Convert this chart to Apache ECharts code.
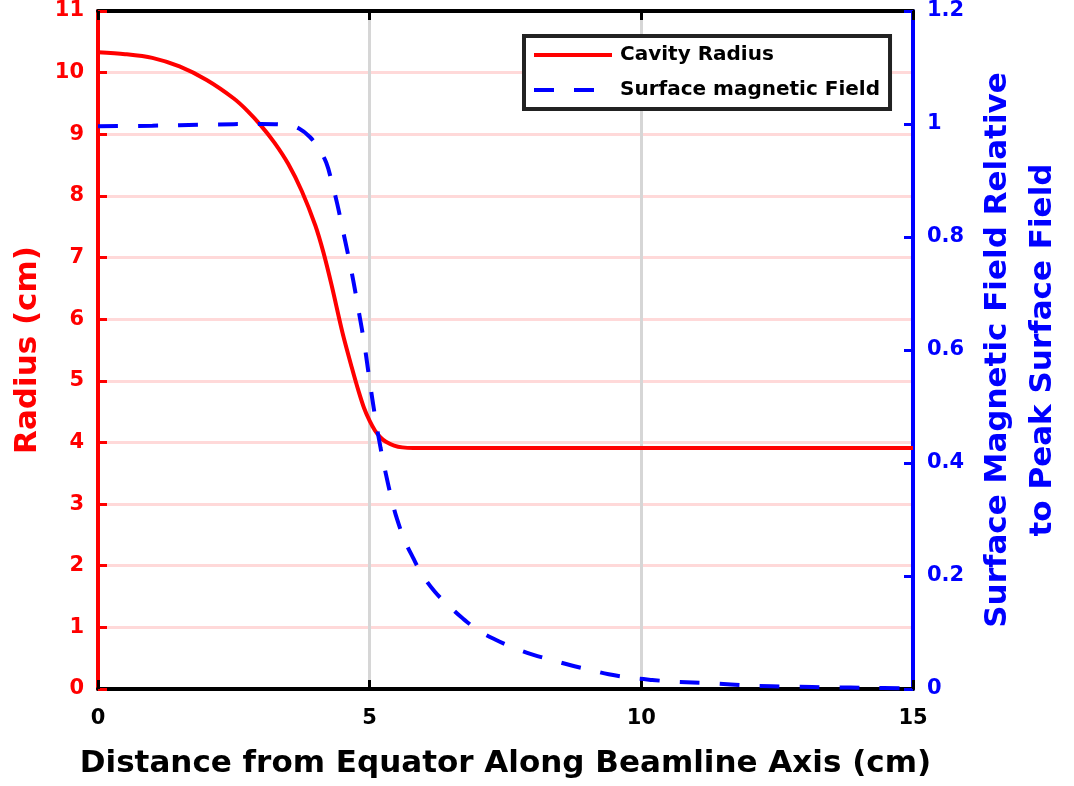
<!DOCTYPE html>
<html>
<head>
<meta charset="utf-8">
<script src="https://cdn.jsdelivr.net/npm/echarts@6/dist/echarts.min.js"></script>
<style>
  html, body { margin: 0; padding: 0; background: #fff; }
  #chart { width: 1074px; height: 786px; }
</style>
</head>
<body>
<div id="chart"></div>
<script>
// ---- data ----
const radiusX = [0, 0.5, 1.0, 1.5, 2.0, 2.5, 2.75, 3.0, 3.25, 3.5, 3.75, 4.0, 4.15, 4.3, 4.5, 4.67, 4.8, 4.9, 5.0, 5.1, 5.2, 5.3, 5.45, 5.6, 5.8, 15];
const radiusY = [10.33, 10.30, 10.24, 10.10, 9.88, 9.58, 9.38, 9.14, 8.86, 8.52, 8.08, 7.52, 7.08, 6.55, 5.78, 5.22, 4.82, 4.55, 4.35, 4.19, 4.08, 4.01, 3.95, 3.92, 3.91, 3.91];

const fieldX = [0, 1, 2, 3, 3.5, 3.7, 3.9, 4.05, 4.2, 4.3, 4.4, 4.5, 4.6, 4.7, 4.8, 4.9, 5.0, 5.1, 5.2, 5.3, 5.4, 5.5, 5.65, 5.8, 5.95, 6.2, 6.45, 6.7, 7.0, 7.3, 7.65, 8.0, 8.4, 8.7, 9.05, 9.4, 9.8, 10.2, 10.6, 11.3, 12.0, 12.8, 13.5, 14.2, 15];
const fieldY = [0.996, 0.997, 0.999, 1.000, 0.998, 0.992, 0.977, 0.958, 0.932, 0.898, 0.860, 0.815, 0.770, 0.722, 0.668, 0.612, 0.545, 0.482, 0.427, 0.380, 0.338, 0.302, 0.262, 0.232, 0.205, 0.172, 0.148, 0.126, 0.104, 0.088, 0.073, 0.061, 0.050, 0.042, 0.034, 0.026, 0.020, 0.016, 0.013, 0.010, 0.006, 0.004, 0.003, 0.002, 0.001];

const seriesNames = ['Cavity Radius', 'Surface magnetic Field'];
const xTitle = 'Distance from Equator Along Beamline Axis (cm)';
const yLeftTitle = 'Radius (cm)';
const yRightTitle = 'Surface Magnetic Field Relative\nto Peak Surface Field';

// ---- chart ----
const FONT = 'DejaVu Sans';
const chart = echarts.init(document.getElementById('chart'), null, { renderer: 'canvas' });

const option = {
  backgroundColor: '#ffffff',
  animation: false,
  grid: { left: 98, right: 161, top: 11, bottom: 97, containLabel: false },
  legend: {
    orient: 'vertical',
    left: 524,
    top: 36,
    padding: [9, 10, 9, 8],
    itemGap: 15,
    itemWidth: 78,
    itemHeight: 20,
    backgroundColor: '#ffffff',
    borderColor: '#222222',
    borderWidth: 4,
    borderRadius: 0,
    data: seriesNames,
    itemStyle: { opacity: 0 },
    lineStyle: { width: 4 },
    textStyle: { fontFamily: FONT, fontWeight: 'bold', fontSize: 20, color: '#000', padding: [0, 0, 0, 3] }
  },
  xAxis: [
    {
      type: 'value', position: 'bottom', min: 0, max: 15, interval: 5,
      name: xTitle, nameLocation: 'middle', nameGap: 59,
      nameTextStyle: { fontFamily: FONT, fontWeight: 'bold', fontSize: 31, color: '#000' },
      axisLine: { show: true, onZero: false, lineStyle: { color: '#000', width: 4 } },
      axisTick: { show: true, inside: true, length: 9, lineStyle: { color: '#000', width: 3 } },
      axisLabel: { fontFamily: FONT, fontWeight: 'bold', fontSize: 21, color: '#000', margin: 19 },
      splitLine: { show: true, lineStyle: { color: '#d6d6d6', width: 3 } }
    },
    {
      type: 'value', position: 'top', min: 0, max: 15, interval: 5,
      axisLine: { show: true, onZero: false, lineStyle: { color: '#000', width: 4 } },
      axisTick: { show: true, inside: true, length: 9, lineStyle: { color: '#000', width: 3 } },
      axisLabel: { show: false },
      splitLine: { show: false }
    }
  ],
  yAxis: [
    {
      type: 'value', position: 'left', min: 0, max: 11, interval: 1,
      name: yLeftTitle, nameLocation: 'middle', nameGap: 51,
      nameTextStyle: { fontFamily: FONT, fontWeight: 'bold', fontSize: 31, color: '#ff0000' },
      axisLine: { show: true, onZero: false, lineStyle: { color: '#ff0000', width: 4 } },
      axisTick: { show: true, inside: true, length: 9, lineStyle: { color: '#ff0000', width: 3 } },
      axisLabel: { fontFamily: FONT, fontWeight: 'bold', fontSize: 21, color: '#ff0000', margin: 14 },
      splitLine: { show: true, lineStyle: { color: 'rgba(255,0,0,0.15)', width: 3 } }
    },
    {
      type: 'value', position: 'right', min: 0, max: 1.2, interval: 0.2,
      name: yRightTitle, nameLocation: 'middle', nameGap: 62, nameRotate: 90,
      nameTextStyle: { fontFamily: FONT, fontWeight: 'bold', fontSize: 31, color: '#0000ff', lineHeight: 45, align: 'center' },
      axisLine: { show: true, onZero: false, lineStyle: { color: '#0000ff', width: 4 } },
      axisTick: { show: true, inside: true, length: 9, lineStyle: { color: '#0000ff', width: 3 } },
      axisLabel: { fontFamily: FONT, fontWeight: 'bold', fontSize: 21, color: '#0000ff', margin: 14 },
      splitLine: { show: false }
    }
  ],
  series: [
    {
      name: seriesNames[0], type: 'line', xAxisIndex: 0, yAxisIndex: 0,
      data: radiusX.map((x, i) => [x, radiusY[i]]),
      symbol: 'none', smooth: 0.3,
      lineStyle: { color: '#ff0000', width: 4 },
      itemStyle: { color: '#ff0000' },
      z: 3
    },
    {
      name: seriesNames[1], type: 'line', xAxisIndex: 0, yAxisIndex: 1,
      data: fieldX.map((x, i) => [x, fieldY[i]]),
      symbol: 'none', smooth: 0.4,
      lineStyle: { color: '#0000ff', width: 4, type: [20, 20] },
      itemStyle: { color: '#0000ff' },
      z: 4
    }
  ]
};
chart.setOption(option);
</script>
</body>
</html>
